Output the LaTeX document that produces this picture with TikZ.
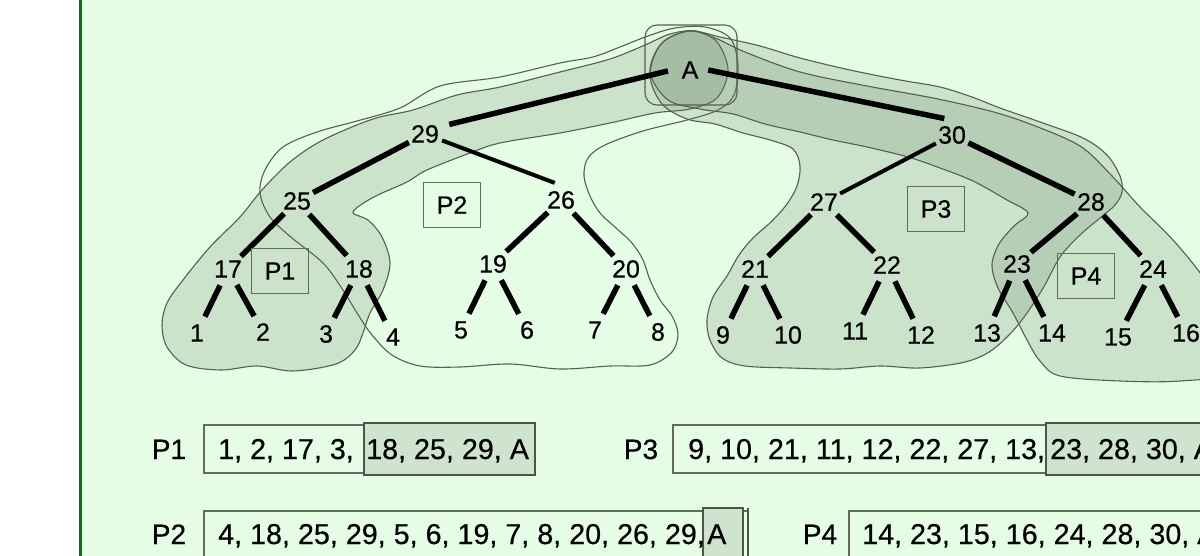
\documentclass[tikz,border=0pt]{standalone}
\usepackage{fontspec}
\setmainfont{Liberation Sans}
\newfontfamily\heavyfont{Liberation Sans}[FakeBold=0.5]
\definecolor{mint}{RGB}{229,253,229}
\definecolor{framegreen}{RGB}{12,110,12}
\definecolor{shade}{RGB}{100,122,100}
\definecolor{rim}{RGB}{85,95,85}
\definecolor{boxline}{RGB}{100,105,100}
\definecolor{listshade}{RGB}{206,228,206}
\definecolor{listrim}{RGB}{75,85,75}
\begin{document}
\begin{tikzpicture}[x=1pt,y=-1pt,
  num/.style={circle,minimum size=36pt,inner sep=0pt,font=\heavyfont\fontsize{25}{28}\selectfont},
  tree edge/.style={line width=5.5pt},
  thin edge/.style={line width=4pt},
  part/.style={draw=rim,line width=1.1pt,fill=shade,fill opacity=0.2},
  outline/.style={draw=rim,line width=1.1pt},
  tag/.style={draw=boxline,line width=1.4pt,inner sep=0pt,minimum width=57pt,minimum height=45pt,font=\heavyfont\fontsize{25}{28}\selectfont},
  listtext/.style={font=\heavyfont\fontsize{28.7}{30}\selectfont,inner sep=0pt,anchor=base west},
  listname/.style={font=\heavyfont\fontsize{28}{30}\selectfont,inner sep=0pt,anchor=base},
  listbox/.style={draw=boxline,line width=1.4pt},
  listhi/.style={draw=listrim,line width=2pt,fill=listshade}]

% canvas
\useasboundingbox (0,0) rectangle (1200,556);
\clip (0,0) rectangle (1200,556);
\fill[white] (0,0) rectangle (1200,556);
\fill[mint] (82,0) rectangle (1200,556);
\draw[framegreen,line width=3pt] (80.5,0) -- (80.5,556);

% partition P2 (outline only)
\draw[outline] plot[smooth cycle,tension=0.55] coordinates {
 (675,28) (648,36) (620,47) (593,57) (560,63) (500,77) (440,86) (400,108)
 (357,121) (317,132) (283,147) (265,170) (260,193) (270,217) (292,238)
 (323,263) (343,290) (357,313) (372,335) (392,355) (420,366) (460,367)
 (510,364) (560,369) (610,366) (650,365) (672,352) (678,334) (672,316)
 (660,300) (650,280) (643,260) (632,243) (616,228) (600,213) (590,196)
 (584,176) (588,158) (605,145) (643,131) (687,120) (718,110) (734,95)
 (738,65) (730,38) (705,27)};

% partition P1
\draw[part] plot[smooth cycle,tension=0.55] coordinates {
 (695,31) (670,34) (645,45) (610,59) (560,72) (500,87) (457,95) (413,110)
 (373,119) (323,140) (290,162) (262,190) (240,217) (210,247) (183,280)
 (167,303) (162,325) (167,347) (186,365) (221,370) (257,366) (293,371)
 (336,364) (355,350) (363,333) (370,313) (383,290) (390,263) (382,237)
 (368,220) (353,213) (362,204) (380,194) (407,182) (427,170) (470,153)
 (500,143) (560,133) (610,123) (655,113) (690,109) (717,98) (728,70) (717,42)};

% partition P3
\draw[part] plot[smooth cycle,tension=0.55] coordinates {
 (689,31) (720,37) (760,46) (800,58) (850,70) (900,80) (940,87) (972,97)
 (1000,108) (1040,122) (1083,138) (1107,155) (1120,176) (1122,192)
 (1115,205) (1100,218) (1080,235) (1060,257) (1042,290) (1018,325)
 (992,350) (965,362) (920,368) (880,366) (840,369) (790,368) (745,366)
 (722,358) (710,340) (707,320) (713,297) (727,276) (739,255) (753,238)
 (772,221) (787,204) (797,186) (800,166) (793,149) (770,140) (743,133)
 (715,124) (687,119) (662,104) (650,75) (661,44)};

% partition P4
\draw[part] plot[smooth cycle,tension=0.55] coordinates {
 (689,31) (715,38) (745,52) (800,72) (867,86) (933,98) (990,111) (1030,124)
 (1080,146) (1112,176) (1140,207) (1173,240) (1205,280) (1232,330)
 (1228,372) (1180,381) (1120,381) (1060,376) (1040,361) (1027,340)
 (1013,313) (998,288) (992,265) (999,244) (1014,226) (1028,213) (1007,200)
 (973,181) (940,168) (908,157) (867,147) (833,140) (800,132) (765,124)
 (733,114) (700,109) (668,100) (650,72) (662,43)};

% frame round the root
\draw[outline,rounded corners=12pt] (645,25) rectangle (737,105);

% tree nodes
\node[num] (nA) at (690,70) {A};
\node[num] (n29) at (425,134) {29};
\node[num] (n30) at (952,135) {30};
\node[num] (n25) at (297,201) {25};
\node[num] (n26) at (561,200) {26};
\node[num] (n27) at (824,202) {27};
\node[num] (n28) at (1091,202) {28};
\node[num] (n17) at (228,269) {17};
\node[num] (n18) at (359,269) {18};
\node[num] (n19) at (493,264) {19};
\node[num] (n20) at (626,269) {20};
\node[num] (n21) at (755,269) {21};
\node[num] (n22) at (887,265) {22};
\node[num] (n23) at (1017,264) {23};
\node[num] (n24) at (1153,269) {24};
\node[num] (n1) at (197,333) {1};
\node[num] (n2) at (263,332) {2};
\node[num] (n3) at (326,334) {3};
\node[num] (n4) at (393,337) {4};
\node[num] (n5) at (461,330) {5};
\node[num] (n6) at (527,330) {6};
\node[num] (n7) at (595,330) {7};
\node[num] (n8) at (658,332) {8};
\node[num] (n9) at (723,335) {9};
\node[num] (n10) at (788,335) {10};
\node[num] (n11) at (855,331) {11};
\node[num] (n12) at (921,335) {12};
\node[num] (n13) at (987,333) {13};
\node[num] (n14) at (1052,333) {14};
\node[num] (n15) at (1118,337) {15};
\node[num] (n16) at (1186,333) {16};

% tree edges
\draw[tree edge,shorten <=8pt,shorten >=4pt] (n29.25) -- (nA.west);
\draw[tree edge] (nA.east) -- (n30.115);
\draw[tree edge] (n29) -- (n25);
\draw[thin edge] (n29) -- (n26.110);
\draw[thin edge] (n30) -- (n27);
\draw[tree edge] (n30) -- (n28);
\draw[tree edge] (n25) -- (n17);
\draw[tree edge] (n25) -- (n18);
\draw[tree edge] (n26) -- (n19);
\draw[tree edge] (n26) -- (n20);
\draw[tree edge] (n27) -- (n21);
\draw[tree edge] (n27) -- (n22);
\draw[tree edge] (n28) -- (n23);
\draw[tree edge] (n28) -- (n24);
\draw[tree edge] (n17) -- (n1);
\draw[tree edge] (n17) -- (n2);
\draw[tree edge] (n18) -- (n3);
\draw[tree edge] (n18) -- (n4);
\draw[tree edge] (n19) -- (n5);
\draw[tree edge] (n19) -- (n6);
\draw[tree edge] (n20) -- (n7);
\draw[tree edge] (n20) -- (n8);
\draw[tree edge] (n21) -- (n9);
\draw[tree edge] (n21) -- (n10);
\draw[tree edge] (n22) -- (n11);
\draw[tree edge] (n22) -- (n12);
\draw[tree edge] (n23) -- (n13);
\draw[tree edge] (n23) -- (n14);
\draw[tree edge] (n24) -- (n15);
\draw[tree edge] (n24) -- (n16);

% partition tags
\node[tag] (tP1) at (280,271) {P1};
\node[tag] (tP2) at (452,205) {P2};
\node[tag] (tP3) at (936,209) {P3};
\node[tag] (tP4) at (1086,276) {P4};

% traversal lists
\node[listname] (lP1) at (169,459) {P1};
\draw[listbox] (204,425) rectangle (535,473);
\draw[listhi] (364,423) rectangle (535,475);
\node[listtext] (l1a) at (218,459) {1, 2, 17, 3,};
\node[listtext] (l1b) at (366,459) {18, 25, 29, A};

\node[listname] (lP2) at (169,544) {P2};
\draw[listbox] (204,511) rectangle (748,580);
\draw[listhi] (703,508) rectangle (743,580);
\draw[listrim,line width=1.4pt] (748,508) -- (748,580);
\node[listtext] (l2a) at (218,544) {4, 18, 25, 29, 5, 6, 19, 7, 8, 20, 26, 29,};
\node[listtext] (l2b) at (707,544) {A};

\node[listname] (lP3) at (641,459) {P3};
\draw[listbox] (673,425) rectangle (1215,473);
\draw[listhi] (1046,423) rectangle (1215,475);
\node[listtext] (l3a) at (688,459) {9, 10, 21, 11, 12, 22, 27, 13,};
\node[listtext] (l3b) at (1050,459) {23, 28, 30, A};

\node[listname] (lP4) at (820,544) {P4};
\draw[listbox] (849,511) rectangle (1215,580);
\node[listtext] (l4a) at (862,544) {14, 23, 15, 16, 24, 28, 30, A};
\end{tikzpicture}
\end{document}
